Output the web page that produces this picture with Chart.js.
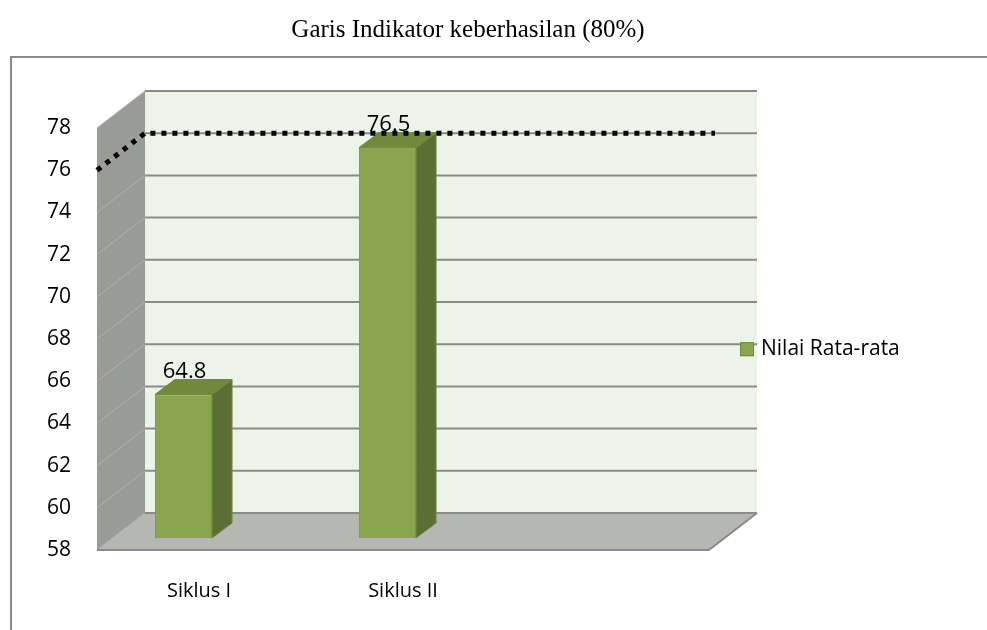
<!DOCTYPE html>
<html><head><meta charset="utf-8">
<style>html,body{margin:0;padding:0;background:#fff;}#wrap{width:987px;height:630px;}</style>
<script src="https://cdn.jsdelivr.net/npm/chart.js@4.4.1/dist/chart.umd.min.js"></script>
</head><body><div id="wrap"><canvas id="c" width="987" height="630"></canvas></div>
<script>
const chartTitle = 'Garis Indikator keberhasilan (80%)';
const categories = ['Siklus I', 'Siklus II'];
const seriesName = 'Nilai Rata-rata';
const seriesValues = [64.8, 76.5];
const yTicks = [58, 60, 62, 64, 66, 68, 70, 72, 74, 76, 78];
const indicatorValue = 76;

const DX = 48, DY = 37;          // wall depth offset
const BDX = 20, BDY = 15;        // bar depth offset
const SHIFT_X = -15.5, SHIFT_Y = -12;
const FONT = "'Open Sans'";

function poly(ctx, pts, fill, stroke, lw) {
  ctx.beginPath();
  pts.forEach((p, i) => i ? ctx.lineTo(p[0], p[1]) : ctx.moveTo(p[0], p[1]));
  ctx.closePath();
  if (fill) { ctx.fillStyle = fill; ctx.fill(); }
  if (stroke) { ctx.strokeStyle = stroke; ctx.lineWidth = lw || 1; ctx.stroke(); }
}
function line(ctx, x1, y1, x2, y2, c, w) {
  ctx.beginPath(); ctx.moveTo(x1, y1); ctx.lineTo(x2, y2);
  ctx.strokeStyle = c; ctx.lineWidth = w; ctx.stroke();
}

const threeD = {
  id: 'threeD',
  beforeDraw(chart) {
    const ctx = chart.ctx;
    ctx.save();
    ctx.fillStyle = '#fff'; ctx.fillRect(0, 0, chart.width, chart.height);
    ctx.strokeStyle = '#8a8a8a'; ctx.lineWidth = 2;
    ctx.beginPath(); ctx.moveTo(11, chart.height + 2); ctx.lineTo(11, 57); ctx.lineTo(chart.width + 2, 57); ctx.stroke();
    ctx.fillStyle = '#000'; ctx.font = "25px 'Liberation Serif'";
    ctx.textAlign = 'center'; ctx.textBaseline = 'middle';
    ctx.fillText(chartTitle, 468, 30);
    ctx.restore();
  },
  beforeDatasetsDraw(chart) {
    const ctx = chart.ctx, a = chart.chartArea, ys = chart.scales.y;
    const L = a.left, R = a.right, T = a.top, B = a.bottom;
    ctx.save();
    ctx.fillStyle = '#EEF3E9'; ctx.fillRect(L + DX, T - DY, R - L, B - T);
    poly(ctx, [[L, T], [L + DX, T - DY], [L + DX, B - DY], [L, B]], '#999B97');
    poly(ctx, [[L, B], [L + DX, B - DY], [R + DX, B - DY], [R, B]], '#B5B7B2');
    yTicks.forEach(v => {
      const py = ys.getPixelForValue(v);
      line(ctx, L + DX, py - DY, R + DX, py - DY, '#8A8A8A', 2);
      line(ctx, L, py, L + DX, py - DY, '#B0B1AE', 1);
    });
    line(ctx, L, B, R, B, '#8A8A8A', 2);
    line(ctx, R, B, R + DX, B - DY, '#8A8A8A', 2);
    ctx.restore();
    ctx.save();
    ctx.translate(SHIFT_X, SHIFT_Y);
  },
  afterDatasetsDraw(chart) {
    const ctx = chart.ctx, a = chart.chartArea, ys = chart.scales.y;
    ctx.restore();
    ctx.save();
    const meta = chart.getDatasetMeta(0);
    meta.data.forEach((bar, i) => {
      const p = bar.getProps(['x', 'y', 'base', 'width'], true);
      const l = p.x - p.width / 2 + SHIFT_X, r = p.x + p.width / 2 + SHIFT_X;
      const t = p.y + SHIFT_Y, b = p.base + SHIFT_Y;
      poly(ctx, [[r, t], [r + BDX, t - BDY], [r + BDX, b - BDY], [r, b]], '#5B6E33', '#6E8A3C', 1);
      poly(ctx, [[l, t], [l + BDX, t - BDY], [r + BDX, t - BDY], [r, t]], '#6F8A3D', '#6E8A3C', 1);
      ctx.fillStyle = '#000'; ctx.font = '22px ' + FONT;
      ctx.textAlign = 'center'; ctx.textBaseline = 'middle';
      ctx.fillText(String(seriesValues[i]), (l + r) / 2 + 1, t - 23);
    });
    // indicator dotted line
    const py = ys.getPixelForValue(indicatorValue);
    ctx.beginPath();
    ctx.moveTo(a.left, py); ctx.lineTo(a.left + DX, py - DY); ctx.lineTo(a.right + 6, py - DY);
    ctx.setLineDash([5, 6]); ctx.lineWidth = 5; ctx.strokeStyle = '#000'; ctx.stroke();
    ctx.setLineDash([]);
    // legend
    const lx = a.right + 31, ly = ys.getPixelForValue(66) - DY + 5;
    ctx.fillStyle = '#89A54E'; ctx.fillRect(lx, ly - 7, 14, 14);
    ctx.strokeStyle = '#6E8A3C'; ctx.lineWidth = 1; ctx.strokeRect(lx + 0.5, ly - 6.5, 13, 13);
    ctx.fillStyle = '#000'; ctx.font = '21px ' + FONT; ctx.textAlign = 'left'; ctx.textBaseline = 'middle';
    ctx.fillText(seriesName, lx + 21, ly);
    ctx.restore();
  }
};

new Chart(document.getElementById('c'), {
  type: 'bar',
  data: {
    labels: [...categories, ''],
    datasets: [{
      label: seriesName,
      data: seriesValues,
      backgroundColor: '#89A54E',
      borderColor: '#7A9A44',
      borderWidth: 1,
      categoryPercentage: 1,
      barPercentage: 0.28,
      base: 58
    }]
  },
  options: {
    responsive: false,
    animation: false,
    devicePixelRatio: 1,
    layout: { padding: { left: 0, top: 128, right: 278, bottom: 0 } },
    plugins: { legend: { display: false }, title: { display: false }, tooltip: { enabled: false } },
    scales: {
      x: {
        offset: true,
        grid: { display: false },
        border: { display: false },
        ticks: { color: '#000', font: { family: FONT, size: 20 }, padding: 21 },
        afterFit: s => { s.height = 80; }
      },
      y: {
        min: 58, max: 78,
        grid: { display: false, drawTicks: false },
        border: { display: false },
        ticks: { color: '#000', font: { family: FONT, size: 21 }, padding: 26 },
        afterBuildTicks: s => { s.ticks = yTicks.map(v => ({ value: v })); },
        afterFit: s => { s.width = 97; }
      }
    }
  },
  plugins: [threeD]
});
</script></body></html>
